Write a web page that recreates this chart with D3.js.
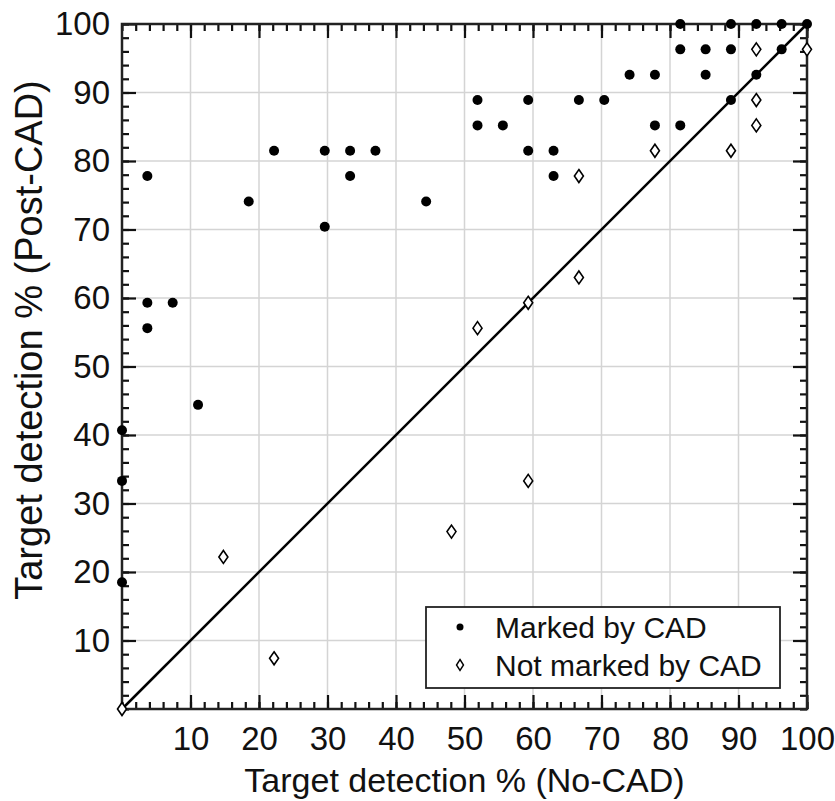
<!DOCTYPE html>
<html>
<head>
<meta charset="utf-8">
<script src="https://cdn.jsdelivr.net/npm/d3@7"></script>
<style>
  body { margin: 0; background: #fff; }
  text { font-family: "Liberation Sans", Arial, sans-serif; fill: #111; }
</style>
</head>
<body>
<svg width="835" height="801"></svg>
<script>
// 被CAD标记的目标 (No-CAD %, Post-CAD %)
var markedX = [0, 0, 0, 3.7, 3.7, 7.4, 3.7, 11.1, 18.5, 22.2, 29.6, 29.6, 33.3, 33.3, 37.0, 44.4,
               51.9, 51.9, 55.6, 59.3, 59.3, 63.0, 63.0, 66.7, 70.4, 74.1, 77.8, 77.8,
               81.5, 81.5, 81.5, 85.2, 85.2, 88.9, 88.9, 88.9, 92.6, 92.6, 96.3, 96.3, 100];
var markedY = [18.5, 33.3, 40.7, 55.6, 59.3, 59.3, 77.8, 44.4, 74.1, 81.5, 70.4, 81.5, 81.5, 77.8, 81.5, 74.1,
               88.9, 85.2, 85.2, 88.9, 81.5, 81.5, 77.8, 88.9, 88.9, 92.6, 92.6, 85.2,
               100, 96.3, 85.2, 96.3, 92.6, 100, 96.3, 88.9, 100, 92.6, 100, 96.3, 100];

// 未被CAD标记的目标
var notMarkedX = [0, 14.8, 22.2, 48.1, 51.9, 59.3, 59.3, 66.7, 66.7, 77.8, 88.9, 92.6, 92.6, 92.6, 100];
var notMarkedY = [0, 22.2, 7.4, 25.9, 55.6, 59.3, 33.3, 63.0, 77.8, 81.5, 81.5, 85.2, 88.9, 96.3, 96.3];

var tickValues = [10, 20, 30, 40, 50, 60, 70, 80, 90, 100];
var legendLabels = ["Marked by CAD", "Not marked by CAD"];

var svg = d3.select("svg");
var margin = {left: 122, right: 28, top: 24, bottom: 92};
var width = 835 - margin.left - margin.right,
    height = 801 - margin.top - margin.bottom;

var x = d3.scaleLinear().domain([0, 100]).range([0, width]);
var y = d3.scaleLinear().domain([0, 100]).range([height, 0]);

var g = svg.append("g").attr("transform", "translate(" + margin.left + "," + margin.top + ")");

// 网格线
var grid = d3.range(10, 100, 10);
g.append("g").selectAll("line.gx").data(grid).enter().append("line")
    .attr("x1", function(d) { return x(d); }).attr("x2", function(d) { return x(d); })
    .attr("y1", 0).attr("y2", height)
    .attr("stroke", "#d4d4d4").attr("stroke-width", 1.5);
g.append("g").selectAll("line.gy").data(grid).enter().append("line")
    .attr("y1", function(d) { return y(d); }).attr("y2", function(d) { return y(d); })
    .attr("x1", 0).attr("x2", width)
    .attr("stroke", "#d4d4d4").attr("stroke-width", 1.5);

// 坐标轴: 主刻度+次刻度, 刻度朝内
var minor = d3.range(0, 101, 2);
function drawAxis(axisFn, scale, transform, labels) {
    var gm = g.append("g").attr("transform", transform)
        .call(axisFn(scale).tickValues(minor).tickSize(-7).tickFormat(""));
    var gM = g.append("g").attr("transform", transform)
        .call(axisFn(scale).tickValues(tickValues).tickSize(-14).tickPadding(labels ? 26 : 0)
            .tickFormat(labels ? d3.format("d") : ""));
    [gm, gM].forEach(function(a) {
        a.select(".domain").remove();
        a.selectAll(".tick line").attr("stroke", "#111").attr("stroke-width", 2.2);
    });
    gM.selectAll("text").style("font-size", "33px").attr("fill", "#111");
    return gM;
}
var xa = drawAxis(d3.axisBottom, x, "translate(0," + height + ")", true);
xa.selectAll("text").attr("dy", "0.71em").attr("y", 18);
var ya = drawAxis(d3.axisLeft, y, "translate(0,0)", true);
ya.selectAll("text").attr("x", -12);
drawAxis(d3.axisTop, x, "translate(0,0)", false);
drawAxis(d3.axisRight, y, "translate(" + width + ",0)", false);

// 外框
g.append("rect").attr("width", width).attr("height", height)
    .attr("fill", "none").attr("stroke", "#222").attr("stroke-width", 2.5);

// 对角线 y = x
g.append("line")
    .attr("x1", x(0)).attr("y1", y(0)).attr("x2", x(100)).attr("y2", y(100))
    .attr("stroke", "#000").attr("stroke-width", 2.5);

function diamond(w, h) {
    return "M0," + (-h) + "L" + w + ",0L0," + h + "L" + (-w) + ",0Z";
}

// 未标记: 空心菱形
g.append("g").selectAll("path").data(d3.range(notMarkedX.length)).enter().append("path")
    .attr("transform", function(i) { return "translate(" + x(notMarkedX[i]) + "," + y(notMarkedY[i]) + ")"; })
    .attr("d", diamond(4.5, 6.5))
    .attr("fill", "#fff").attr("stroke", "#000").attr("stroke-width", 1.6);

// 已标记: 实心圆点
g.append("g").selectAll("circle").data(d3.range(markedX.length)).enter().append("circle")
    .attr("cx", function(i) { return x(markedX[i]); })
    .attr("cy", function(i) { return y(markedY[i]); })
    .attr("r", 5)
    .attr("fill", "#000");

// 坐标轴标题
svg.append("text")
    .attr("x", margin.left + width / 2).attr("y", 792)
    .attr("text-anchor", "middle").style("font-size", "34px")
    .text("Target detection % (No-CAD)");
svg.append("text")
    .attr("transform", "translate(42,340) rotate(-90)")
    .attr("text-anchor", "middle").style("font-size", "38px")
    .text("Target detection % (Post-CAD)");

// 图例
var legend = svg.append("g").attr("transform", "translate(426,607)");
legend.append("rect").attr("width", 354).attr("height", 81)
    .attr("fill", "#fff").attr("stroke", "#222").attr("stroke-width", 1.8);
legend.append("circle").attr("cx", 34).attr("cy", 20).attr("r", 3.5).attr("fill", "#000");
legend.append("path").attr("transform", "translate(34,58)").attr("d", diamond(3.5, 5.5))
    .attr("fill", "#fff").attr("stroke", "#000").attr("stroke-width", 1.4);
legend.selectAll("text").data(legendLabels).enter().append("text")
    .attr("x", 69)
    .attr("y", function(d, i) { return 31 + i * 38; })
    .style("font-size", "30px")
    .text(function(d) { return d; });
</script>
</body>
</html>
